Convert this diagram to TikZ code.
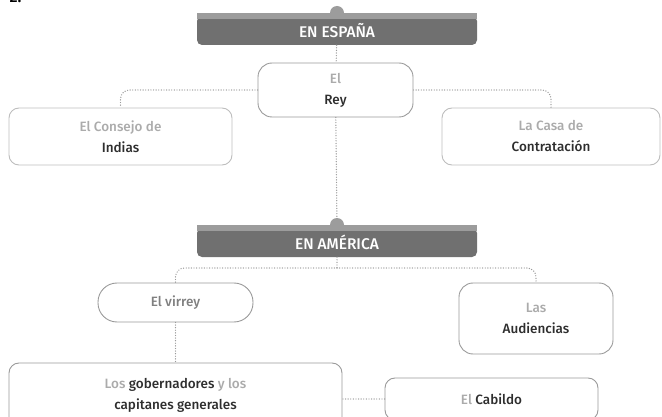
\documentclass[tikz,border=0pt]{standalone}
\usepackage{fontspec}
\setmainfont{Fira Sans}[BoldFont={Fira Sans Medium}]
\usetikzlibrary{positioning}

\definecolor{hdark}{HTML}{707070}
\definecolor{hlight}{HTML}{9C9C9C}
\definecolor{boxline}{HTML}{9A9A9A}
\definecolor{softline}{HTML}{BDBDBD}
\definecolor{softtext}{HTML}{ABABAB}
\definecolor{darktext}{HTML}{2E2E2E}

\begin{document}
\begin{tikzpicture}[
    x=1pt, y=-1pt,
    header/.style={fill=hdark, rounded corners=5pt, minimum width=280pt, minimum height=29pt,
        inner sep=0pt, text=white, font=\bfseries\fontsize{15.5}{17}\selectfont},
    bump/.style={circle, fill=hlight, minimum size=14pt, inner sep=0pt},
    box/.style={draw=boxline, line width=0.9pt, rounded corners=14pt, align=center,
        inner sep=0pt, font=\bfseries\fontsize{13.5}{16}\selectfont, text=darktext},
    softbox/.style={box, draw=softline, rounded corners=10pt},
    link/.style={draw=boxline, line width=1.4pt, line cap=round,
        dash pattern=on 0pt off 2.6pt, rounded corners=9pt},
    faint/.style={text=softtext}
]
    \useasboundingbox (0,0) rectangle (662,417);

    % === 0. Number (cut at the top) ===
    \node[font=\bfseries\fontsize{16}{18}\selectfont, anchor=south west] (num) at (6,6) {2.};

    % === 1. En España ===
    \node[bump] (bumpE) at (337,13) {};
    \node[header] (espana) at (337,30.5) {EN ESPAÑA};
    \fill[hlight] ([yshift=3pt]espana.north west) rectangle ([yshift=-3pt]espana.north east);

    \node[box, minimum width=155pt, minimum height=54pt] (rey) at (335.5,90)
        {{\color{softtext}El}\\[5pt]Rey};
    \node[softbox, minimum width=223pt, minimum height=57pt] (consejo) at (120.5,136.5)
        {{\color{softtext}El Consejo de}\\[5pt]Indias};
    \node[softbox, minimum width=218pt, minimum height=57pt] (casa) at (551,136.5)
        {{\color{softtext}La Casa de}\\[5pt]Contratación};

    % Links
    \draw[link] (espana) -- (rey);
    \draw[link] (rey.west) -| (consejo.north);
    \draw[link] (rey.east) -| (casa.north);

    % === 2. En América ===
    \node[bump] (bumpA) at (337,225) {};
    \node[header] (america) at (337,242.5) {EN AMÉRICA};
    \fill[hlight] ([yshift=3pt]america.north west) rectangle ([yshift=-3pt]america.north east);

    \draw[link] (rey) -- (bumpA);

    \node[box, rounded corners=19pt, minimum width=155pt, minimum height=39pt, text=gray] (virrey)
        at (175.5,302.5) {El virrey};
    \node[box, minimum width=154pt, minimum height=71pt] (audiencias) at (536,318.5)
        {{\color{softtext}Las}\\[5pt]Audiencias};
    \node[box, rounded corners=10pt, minimum width=333pt, minimum height=64pt] (gobernadores)
        at (175.5,395) {{\color{softtext}Los} gobernadores {\color{softtext}y los}\\[5pt]capitanes generales};
    \node[box, rounded corners=10pt, minimum width=213pt, minimum height=42pt] (cabildo)
        at (491.5,399) {{\color{softtext}El} Cabildo};

    % Links
    \coordinate (split) at (337,268);
    \draw[link] (america) -- (split);
    \draw[link] (split) -| (virrey.north);
    \draw[link] (split) -| (audiencias.north);
    \draw[link] (virrey) -- (gobernadores);
    \draw[link] (cabildo.west) -- (cabildo.west -| gobernadores.east);

\end{tikzpicture}
\end{document}
